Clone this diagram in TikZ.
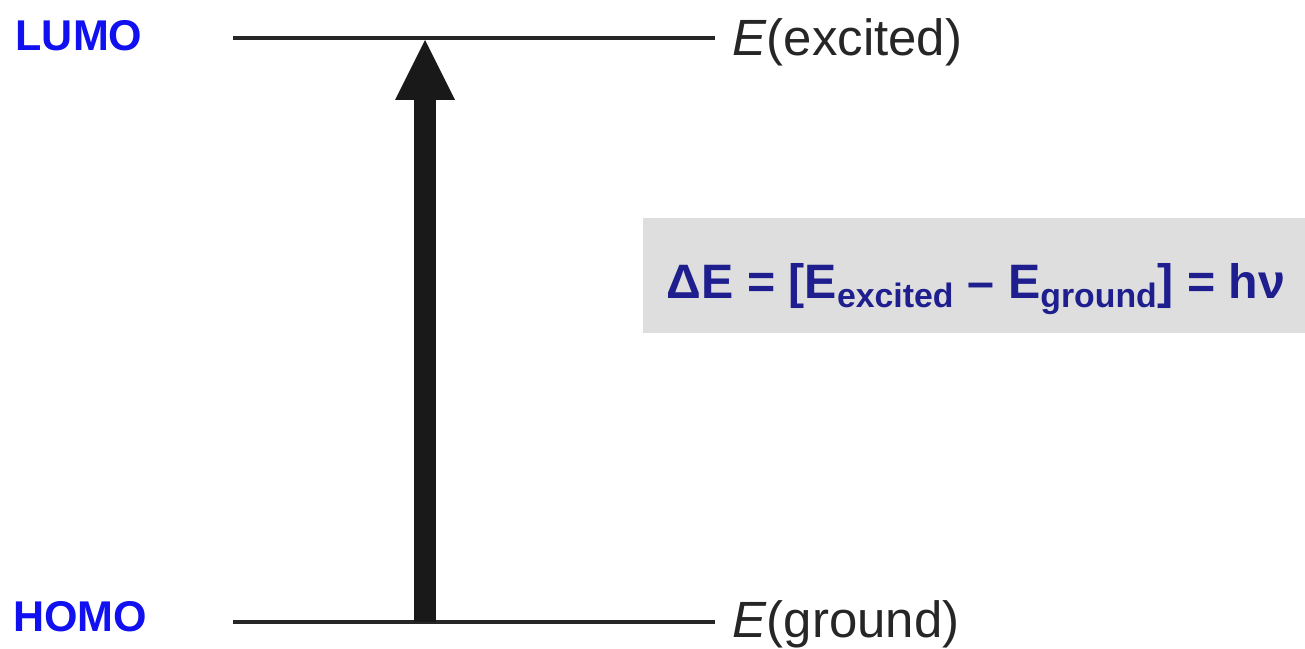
\documentclass[tikz,border=0pt]{standalone}
\usepackage{fontspec}
\setmainfont{Liberation Sans}
\usepackage{tikz}
\usetikzlibrary{arrows.meta, positioning}
\definecolor{orbblue}{HTML}{1010F0}
\definecolor{eqnavy}{HTML}{1E1E8E}
\definecolor{eqgray}{HTML}{DEDEDE}

\begin{document}
\begin{tikzpicture}[
            x=0.02cm, y=-0.02cm,
            level/.style ={line width=2.1pt, draw=black!85},
            orb/.style   ={font=\fontsize{24.5}{28}\selectfont\bfseries, text=orbblue,
                    inner sep=0pt},
            elbl/.style  ={font=\fontsize{29}{32}\selectfont, text=black!85,
                    anchor=west, inner sep=0pt},
            absorb/.style={-{Triangle[width=1.2cm, length=1.2cm, line width=0pt]},
                    line width=0.44cm, draw=black!90},
            eqbox/.style ={fill=eqgray, inner sep=0pt, minimum width=13.24cm,
                    minimum height=2.3cm},
            eqn/.style   ={font=\fontsize{27.5}{30}\selectfont\bfseries, text=eqnavy,
                    inner sep=0pt}
        ]
        \useasboundingbox (0,0) rectangle (1305,649);

        %% --- Energy levels --------------------------------------------------
        \coordinate (lumoL) at (233,38);
        \coordinate (lumoR) at (715,38);
        \coordinate (homoL) at (233,622);
        \coordinate (homoR) at (715,622);
        \draw[level] (lumoL) -- (lumoR);
        \draw[level] (homoL) -- (homoR);

        \node[orb] (lumo) at (79,36) {LUMO};
        \node[orb] (homo) at (80,617) {HOMO};
        \node[elbl, xshift=0.34cm, yshift=-0.09cm] (excited) at (lumoR) {\textit{E}(excited)};
        \node[elbl, xshift=0.34cm, yshift=-0.04cm] (ground)  at (homoR) {\textit{E}(ground)};

        %% --- Absorption arrow -----------------------------------------------
        \coordinate (upS) at (425,622);
        \coordinate (upE) at (425,40);
        \draw[absorb] (upS) -- (upE);

        %% --- Energy gap -----------------------------------------------------
        \node[eqbox] (gapbox) at (974,275.5) {};
        \node[eqn, anchor=base] (gap) at (976,298)
        {ΔE = [E\textsubscript{excited} – E\textsubscript{ground}] = hν};

    \end{tikzpicture}
\end{document}
